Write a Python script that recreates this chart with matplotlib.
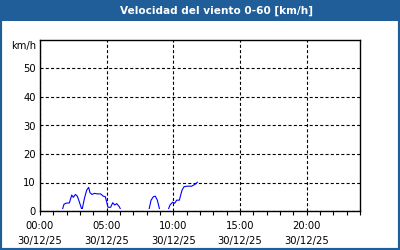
import matplotlib
matplotlib.use("Agg")
import matplotlib.pyplot as plt
from matplotlib.patches import Rectangle
from matplotlib.ticker import MultipleLocator, FixedLocator

plt.rcParams['lines.scale_dashes'] = False

title = "Velocidad del viento 0-60 [km/h]"
unit_label = "km/h"
hours = [0.0, 1.65, 1.8, 2.0, 2.2, 2.38, 2.5, 2.65, 2.8, 2.95, 3.15, 3.33, 3.5, 3.65, 3.75,
         3.9, 4.08, 4.3, 4.55, 4.75, 4.9, 5.0, 5.1, 5.3, 5.45, 5.6, 5.75, 5.95, 6.1,
         8.15, 8.33, 8.5, 8.65, 8.8, 9.0, 9.58, 9.75, 9.95, 10.1, 10.25, 10.45, 10.65,
         10.8, 11.0, 11.38, 11.55, 11.65, 11.8]
speed = [0.0, 0.0, 2.4, 2.8, 2.8, 5.6, 4.8, 5.8, 5.2, 3.2, 0.3, 4.4, 7.3, 8.3, 6.4,
         5.8, 6.2, 6.0, 6.0, 5.2, 5.0, 3.2, 1.3, 1.3, 2.9, 2.1, 2.6, 1.5, 0.0,
         0.0, 3.8, 5.0, 5.2, 3.8, 0.0, 0.0, 2.1, 3.1, 2.7, 3.8, 3.8, 7.3,
         8.5, 8.7, 8.7, 9.2, 9.4, 10.1]
xtick_pos = [0, 5, 10, 15, 20]
xtick_labels = ["00:00\n30/12/25", "05:00\n30/12/25", "10:00\n30/12/25",
                "15:00\n30/12/25", "20:00\n30/12/25"]
ytick_pos = [0, 10, 20, 30, 40, 50]

blue_frame = "#1f5e98"
fig = plt.figure(figsize=(4, 2.5), dpi=100, facecolor="white")

# frame and title bar
fig.patches.append(Rectangle((0, 0), 1, 1, transform=fig.transFigure, fill=False,
                             edgecolor=blue_frame, linewidth=3, zorder=0))
fig.patches.append(Rectangle((0, 1 - 21 / 250), 1, 21 / 250, transform=fig.transFigure,
                             facecolor=blue_frame, edgecolor="none", zorder=1))
fig.text(216 / 400, 1 - 11 / 250, title, color="white", fontsize=7.6, fontweight="bold",
         ha="center", va="center")

ax = fig.add_axes([40 / 400, 39 / 250, 320 / 400, 171 / 250])
line, = ax.plot(hours, speed, color="#0000ff", linewidth=0.8, zorder=2)
line.set_clip_path(Rectangle((0, 2.0 / 171), 1, 1, transform=ax.transAxes))
ax.set_xlim(0, 24)
ax.set_ylim(0, 60)
ax.xaxis.set_major_locator(FixedLocator(xtick_pos))
ax.set_xticklabels(xtick_labels, fontsize=7.2, linespacing=1.6)
ax.xaxis.set_minor_locator(MultipleLocator(1))
ax.set_yticks(ytick_pos)
ax.tick_params(axis='y', length=0, pad=3, labelsize=7.2)
ax.tick_params(axis='x', which='both', length=3, width=0.8, direction='out', pad=4)
for s in ax.spines.values():
    s.set_linewidth(1.0)
    s.set_color("black")
    s.set_zorder(3)
ax.grid(True, which='major', color='black', linewidth=0.8, linestyle=(0, (2.2, 1.6)))
ax.set_axisbelow(True)
fig.text(36 / 400, 1 - 46 / 250, unit_label, fontsize=7.2, ha="right", va="center")

fig.savefig("out.png", dpi=100, facecolor="white")
